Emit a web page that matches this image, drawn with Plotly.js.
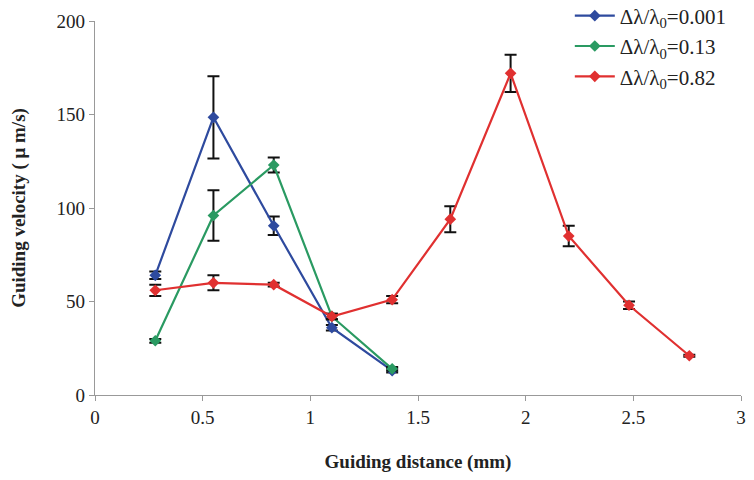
<!DOCTYPE html>
<html>
<head>
<meta charset="utf-8">
<script src="https://cdn.plot.ly/plotly-3.0.1.min.js"></script>
<style>html,body{margin:0;padding:0;background:#fff;}#chart{width:754px;height:480px;}</style>
</head>
<body>
<div id="chart"></div>
<script>
// Data
const xA = [0.28, 0.55, 0.83, 1.10, 1.38];
const blueY = [64, 148.5, 90.5, 36, 13];
const blueErr = [2, 22, 5, 1.5, 1];
const greenY = [29, 96, 123, 42, 14];
const greenErr = [1, 13.5, 4, 1.5, 1];
const xB = [0.28, 0.55, 0.83, 1.10, 1.38, 1.65, 1.93, 2.20, 2.48, 2.76];
const redY = [56, 60, 59, 42, 51, 94, 172, 85, 48, 21];
const redErr = [3, 4, 1, 1.5, 2, 7, 10, 5.5, 2, 0.5];
const names = ["Δλ/λ<sub>0</sub>=0.001", "Δλ/λ<sub>0</sub>=0.13", "Δλ/λ<sub>0</sub>=0.82"];
const colors = ["#2e4a9e", "#2a9a62", "#e03030"];
const xTicks = [0, 0.5, 1, 1.5, 2, 2.5, 3];
const yTicks = [0, 50, 100, 150, 200];

function tr(x, y, e, i) {
  return {
    x: x, y: y, name: names[i], type: "scatter", mode: "lines+markers",
    line: {color: colors[i], width: 2.2},
    marker: {symbol: "diamond", size: 9, color: colors[i]},
    error_y: {type: "data", array: e, visible: true, color: "#111", thickness: 2, width: 6}
  };
}
const data = [tr(xA, blueY, blueErr, 0), tr(xA, greenY, greenErr, 1), tr(xB, redY, redErr, 2)];
const font = "'Liberation Serif', 'Times New Roman', serif";
const layout = {
  width: 754, height: 480,
  margin: {l: 95, r: 13, t: 21, b: 85, autoexpand: false},
  paper_bgcolor: "#fff", plot_bgcolor: "#fff",
  font: {family: font, color: "#222", size: 19},
  showlegend: true,
  legend: {x: 0.735, y: 1.068, xanchor: "left", yanchor: "top", font: {family: font, size: 21, color: "#222"}, bgcolor: "rgba(0,0,0,0)", tracegroupgap: 5, itemwidth: 40},
  xaxis: {
    range: [0, 3], tickvals: xTicks, ticktext: xTicks.map(String),
    showgrid: false, zeroline: false, showline: true, linecolor: "#999", linewidth: 1.2,
    ticks: "outside", ticklen: 5, tickcolor: "#999", tickfont: {family: font, size: 19, color: "#222"},
    title: {text: "<b>Guiding distance (mm)</b>", font: {family: font, size: 19, color: "#222"}, standoff: 27}
  },
  yaxis: {
    range: [0, 200], tickvals: yTicks, ticktext: yTicks.map(String),
    showgrid: false, zeroline: false, showline: true, linecolor: "#999", linewidth: 1.2,
    ticks: "outside", ticklen: 5, tickcolor: "#999", tickfont: {family: font, size: 19, color: "#222"},
    title: {text: "<b>Guiding velocity ( μ m/s)</b>", font: {family: font, size: 19, color: "#222"}, standoff: 25}
  }
};
Plotly.newPlot("chart", data, layout, {displayModeBar: false, staticPlot: true});
</script>
</body>
</html>
